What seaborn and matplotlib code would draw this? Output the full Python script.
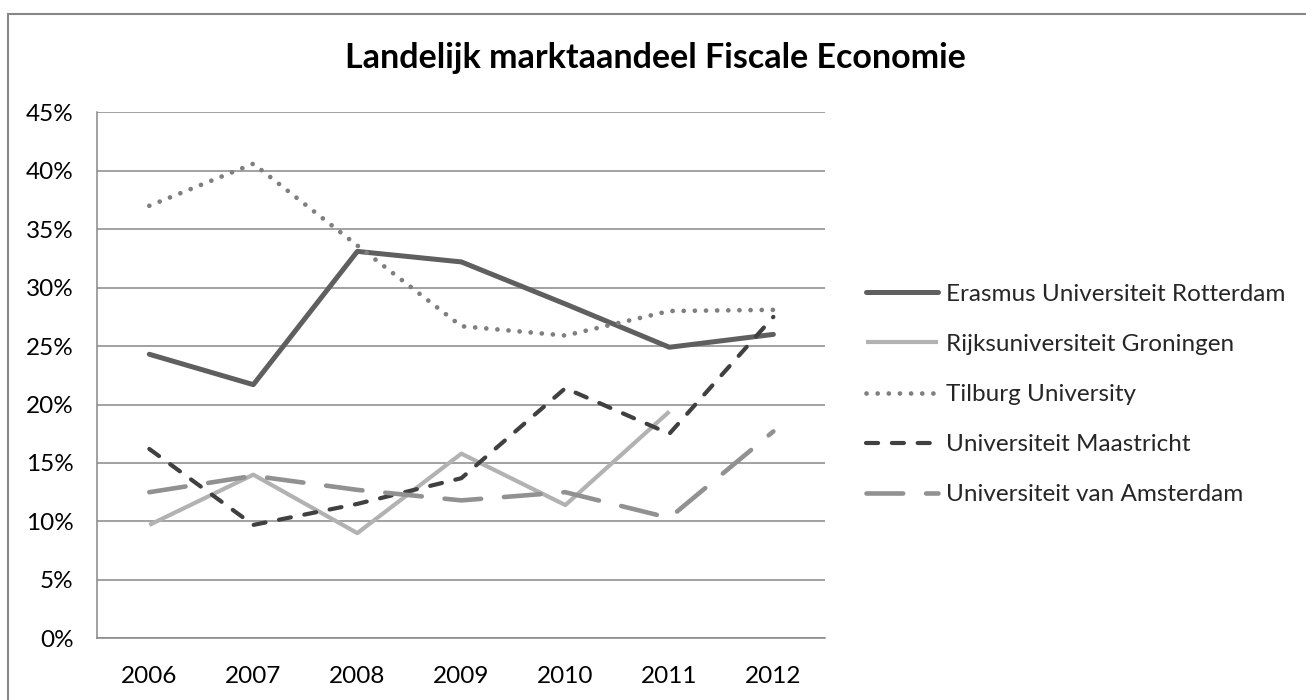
import numpy as np
import pandas as pd
import seaborn as sns
import matplotlib.pyplot as plt
from matplotlib.ticker import PercentFormatter, FixedLocator
from matplotlib.patches import Rectangle

# Gegevens (marktaandeel in %)
years = ["2006", "2007", "2008", "2009", "2010", "2011", "2012"]
erasmus = [24.3, 21.7, 33.1, 32.2, 28.6, 24.9, 26.0]
groningen = [9.7, 14.0, 9.0, 15.8, 11.4, 19.4, np.nan]
tilburg = [37.0, 40.6, 33.6, 26.7, 25.9, 28.0, 28.1]
maastricht = [16.2, 9.7, 11.5, 13.7, 21.4, 17.5, 27.5]
amsterdam = [12.5, 13.9, 12.7, 11.8, 12.5, 10.3, 17.7]

names = ["Erasmus Universiteit Rotterdam", "Rijksuniversiteit Groningen",
         "Tilburg University", "Universiteit Maastricht", "Universiteit van Amsterdam"]
series = [erasmus, groningen, tilburg, maastricht, amsterdam]

sns.set_theme(style="white")
plt.rcParams['font.family'] = ['Lato', 'DejaVu Sans']

stijlen = [
    dict(color="#5f5f5f", linewidth=3.6, linestyle="-", solid_capstyle="round"),
    dict(color="#b2b2b2", linewidth=3.0, linestyle="-", solid_capstyle="butt"),
    dict(color="#7f7f7f", linewidth=3.4, linestyle=(0, (0.01, 2.35)), dash_capstyle="round"),
    dict(color="#404040", linewidth=3.0, linestyle=(0, (2.9, 3.3)), dash_capstyle="round"),
    dict(color="#919191", linewidth=3.3, linestyle=(0, (8.0, 5.0)), dash_capstyle="round"),
]

fig = plt.figure(figsize=(13.06, 7.0), dpi=100)
ax = fig.add_axes([0.0745, 0.0881, 0.5575, 0.7515])

xpos = np.arange(len(years))
for naam, waarden, stijl in zip(names, series, stijlen):
    df = pd.DataFrame({"x": xpos, "y": waarden}).dropna()
    sns.lineplot(data=df, x="x", y="y", ax=ax, label=naam, **stijl)

grid_kleur = "#878787"
ax.set_ylim(0, 45)
ax.set_xlim(-0.5, len(years) - 0.5)
ax.yaxis.set_major_locator(FixedLocator(np.arange(0, 46, 5)))
ax.yaxis.set_major_formatter(PercentFormatter(100, decimals=0))
ax.grid(axis="y", color=grid_kleur, linewidth=1.1)
ax.set_axisbelow(True)

# tickstreepjes tussen de categorieen, labels in het midden
ax.set_xticks(np.arange(-0.5, len(years), 1.0))
ax.set_xticklabels([])
ax.set_xticks(xpos, minor=True)
ax.set_xticklabels(years, minor=True)
ax.tick_params(axis="x", which="major", length=7, width=1.1, color=grid_kleur, direction="out")
ax.tick_params(axis="x", which="minor", length=0, pad=20, labelsize=17.5, labelcolor="black")
ax.tick_params(axis="y", length=7, width=1.1, color=grid_kleur, direction="out", pad=10,
               labelsize=17.5, labelcolor="black")
ax.set_xlabel("")
ax.set_ylabel("")

for kant in ["top", "right"]:
    ax.spines[kant].set_visible(False)
for kant in ["left", "bottom"]:
    ax.spines[kant].set_color(grid_kleur)
    ax.spines[kant].set_linewidth(1.1)

ax.legend(loc="center left", bbox_to_anchor=(0.646, 0.4364), bbox_transform=fig.transFigure,
          frameon=False, fontsize=17.5, handlelength=3.0, handletextpad=0.3, labelspacing=1.2)

fig.text(0.5015, 0.917, "Landelijk marktaandeel Fiscale Economie", ha="center", va="center",
         fontsize=24.5, fontweight="bold", color="black")

# kader rond de grafiek
fig.patches.append(Rectangle((0.0065, -0.2), 1.2, 0.9807 + 0.2, transform=fig.transFigure,
                             fill=False, edgecolor=grid_kleur, linewidth=1.5, clip_on=False))

fig.savefig("out.png", dpi=100)
